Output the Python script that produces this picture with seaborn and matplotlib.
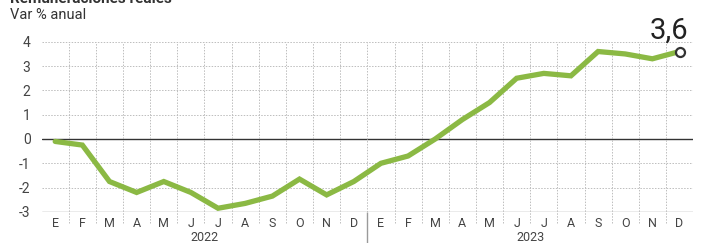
import numpy as np
import pandas as pd
import matplotlib
matplotlib.use("Agg")
import matplotlib.pyplot as plt
import seaborn as sns

# data (Var % anual, remuneraciones reales)
months = ["E", "F", "M", "A", "M", "J", "J", "A", "S", "O", "N", "D"] * 2
years = ["2022", "2023"]
values = [-0.1, -0.25, -1.75, -2.2, -1.75, -2.2, -2.85, -2.65, -2.35, -1.65, -2.3, -1.75,
          -1.0, -0.7, 0.0, 0.8, 1.5, 2.5, 2.7, 2.6, 3.6, 3.5, 3.3, 3.6]
yticks = [-3, -2, -1, 0, 1, 2, 3, 4]
last_label = "3,6"

df = pd.DataFrame({"idx": np.arange(len(values)), "val": values})

sns.set_style("white")
plt.rcParams["font.family"] = ["Roboto", "DejaVu Sans"]

fig = plt.figure(figsize=(7.02, 2.43), dpi=100)
ax = fig.add_axes([0.0593, 0.128, 0.928, 0.700])

grid_c = "#bdbdbd"
# horizontal grid
for y in yticks:
    if y == 0:
        ax.axhline(0, color="#333333", lw=1.0, zorder=1)
    elif y == -3:
        ax.axhline(y, color="#9a9a9a", lw=1.0, zorder=1)
    else:
        ax.axhline(y, color=grid_c, lw=0.7, ls=(0, (1.5, 1.5)), zorder=1)

# vertical month separators (extend below axis among the month letters)
for k in range(1, len(values)):
    if k == 12:
        ax.vlines(k - 0.5, -3, 4, color=grid_c, lw=0.7, ls=(0, (1.5, 1.5)), zorder=1)
        ax.vlines(k - 0.5, -4.3, -3, color="#9a9a9a", lw=1.0, clip_on=False, zorder=1)
    else:
        ax.vlines(k - 0.5, -3.45, 4, color=grid_c, lw=0.7, ls=(0, (1.5, 1.5)),
                  clip_on=False, zorder=1)

sns.lineplot(data=df, x="idx", y="val", ax=ax, color="#8bb944", lw=3.8,
             solid_joinstyle="miter", zorder=3)
ax.plot(df["idx"].iloc[-1], df["val"].iloc[-1], "o", ms=6.5, mfc="white",
        mec="#333333", mew=1.6, zorder=4)

ax.set_xlim(-0.5, len(values) - 0.5)
ax.set_ylim(-3, 4)
ax.set_yticks(yticks)
ax.set_yticklabels([str(v) for v in yticks], fontsize=10, color="#444444")
ax.set_xticks(np.arange(len(values)))
ax.set_xticklabels(months, fontsize=9, color="#444444")
ax.tick_params(axis="both", length=0, pad=4)
ax.tick_params(axis="y", pad=8)
ax.set_xlabel("")
ax.set_ylabel("")
for s in ax.spines.values():
    s.set_visible(False)

for i, yr in enumerate(years):
    ax.text(5.5 + 12 * i, -4.05, yr, ha="center", va="center", fontsize=9,
            color="#444444")

ax.text(len(values) - 1.4, 3.9, last_label, ha="center", va="bottom", fontsize=21,
        color="#222222")

fig.text(0.014, 0.94, "Var % anual", fontsize=10.5, color="#333333", va="center")
fig.text(0.014, 1.005, "Remuneraciones reales", fontsize=11, fontweight="bold",
         color="#333333", va="center")

fig.savefig("out.png", dpi=100)
